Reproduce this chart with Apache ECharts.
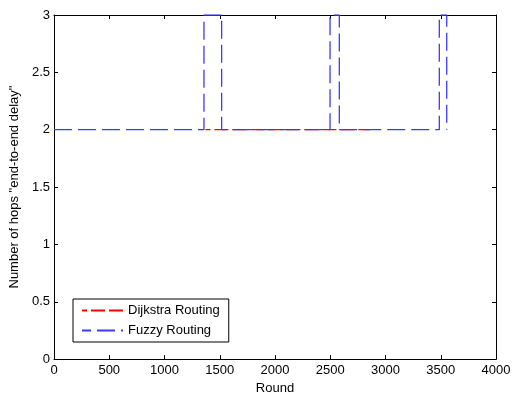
<!DOCTYPE html>
<html>
<head>
<meta charset="utf-8">
<script src="https://cdn.jsdelivr.net/npm/echarts@6/dist/echarts.min.js"></script>
<style>
html,body{margin:0;padding:0;background:#fff;}
#chart{width:517px;height:400px;}
</style>
</head>
<body>
<div id="chart"></div>
<script>
const xTicks = [0, 500, 1000, 1500, 2000, 2500, 3000, 3500, 4000];
const yTicks = [0, 0.5, 1, 1.5, 2, 2.5, 3];
const dijkstraRounds = [1370, 2860];
const dijkstraHops = [2, 2];
const fuzzyRounds = [0, 1357, 1357, 1517, 1517, 2498, 2498, 2582, 2582, 3487, 3487, 3554, 3554];
const fuzzyHops = [2, 2, 3, 3, 2, 2, 3, 3, 2, 2, 3, 3, 2];

const zip = (xs, ys) => xs.map((x, i) => [x, ys[i]]);
const font = 'Liberation Sans, Arial, sans-serif';
const chart = echarts.init(document.getElementById('chart'), null, {renderer: 'canvas'});
const axisCommon = () => ({
  axisLine: {show: true, onZero: false, lineStyle: {color: '#000', width: 1}},
  axisTick: {show: true, inside: true, length: 4, lineStyle: {color: '#000'}},
  splitLine: {show: false}
});
chart.setOption({
  animation: false,
  backgroundColor: '#fff',
  grid: {left: 54, right: 21, top: 15, bottom: 37},
  legend: {
    left: 73, top: 299, orient: 'vertical',
    itemWidth: 41, itemHeight: 10, itemGap: 7,
    padding: [5, 9, 5, 8],
    borderColor: '#000', borderWidth: 1, backgroundColor: '#fff',
    itemStyle: {opacity: 0},
    textStyle: {fontFamily: font, fontSize: 13, color: '#000'},
    data: ['Dijkstra Routing', 'Fuzzy Routing']
  },
  xAxis: [
    Object.assign(axisCommon(), {
      type: 'value', min: 0, max: 4000, interval: 500, position: 'bottom',
      name: 'Round', nameLocation: 'middle', nameGap: 22,
      nameTextStyle: {fontFamily: font, fontSize: 13, color: '#000'},
      axisLabel: {fontFamily: font, fontSize: 13, color: '#000', margin: 5,
        formatter: v => xTicks.includes(v) ? String(v) : ''}
    }),
    Object.assign(axisCommon(), {
      type: 'value', min: 0, max: 4000, interval: 500, position: 'top',
      axisLabel: {show: false}
    })
  ],
  yAxis: [
    Object.assign(axisCommon(), {
      type: 'value', min: 0, max: 3, interval: 0.5, position: 'left',
      name: 'Number of hops "end-to-end delay"', nameLocation: 'middle', nameGap: 31,
      nameTextStyle: {fontFamily: font, fontSize: 13, color: '#000'},
      axisLabel: {fontFamily: font, fontSize: 13, color: '#000', margin: 4,
        formatter: v => yTicks.includes(v) ? String(v) : ''}
    }),
    Object.assign(axisCommon(), {
      type: 'value', min: 0, max: 3, interval: 0.5, position: 'right',
      axisLabel: {show: false}
    })
  ],
  series: [
    {
      name: 'Dijkstra Routing', type: 'line', showSymbol: false, symbol: 'none',
      data: zip(dijkstraRounds, dijkstraHops),
      lineStyle: {color: '#ff0000', width: 1.3, type: [14, 4], dashOffset: 9},
      itemStyle: {color: '#ff0000'}
    },
    {
      name: 'Fuzzy Routing', type: 'line', showSymbol: false, symbol: 'none',
      data: zip(fuzzyRounds, fuzzyHops),
      lineStyle: {color: '#3a3aff', width: 1.3, type: [18, 6]},
      itemStyle: {color: '#3a3aff'}
    }
  ]
});
</script>
</body>
</html>
